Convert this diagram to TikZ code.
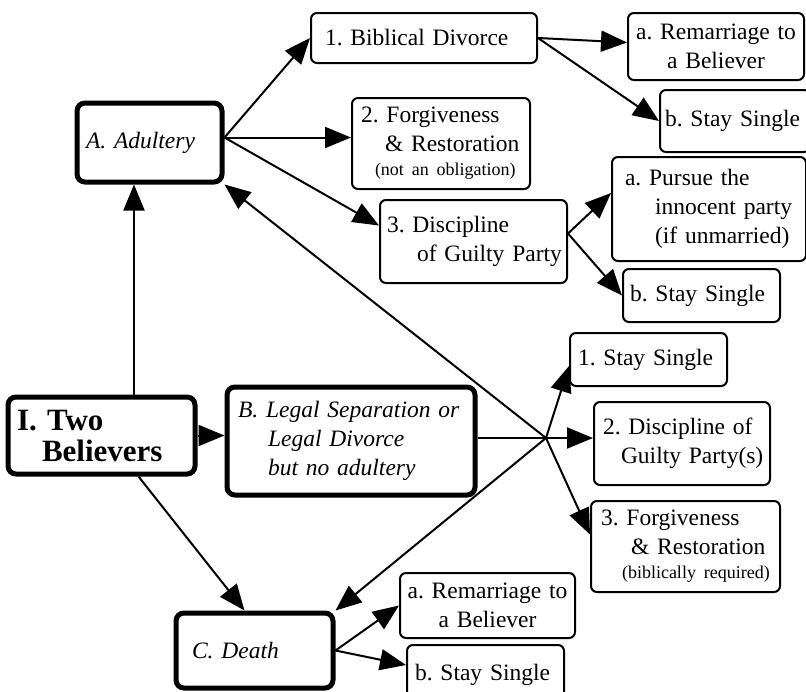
\documentclass[tikz,border=0pt]{standalone}
\usepackage{fontspec}
\setmainfont{Liberation Serif}
\usetikzlibrary{arrows.meta}
\usetikzlibrary{calc}
\frenchspacing

\newcommand{\smalltext}{\fontsize{18}{22}\selectfont}

\begin{document}
\begin{tikzpicture}[x=1pt,y=-1pt,
  box/.style={draw,line width=2pt,rounded corners=6pt,align=left,inner ysep=0pt,
    font=\fontsize{23.5}{29}\selectfont},
  mainbox/.style={box,line width=5pt,rounded corners=8pt},
  arr/.style={line width=2pt,-{Triangle[length=26pt,width=21pt]}}]

  \useasboundingbox (0,0) rectangle (806,691);

  \node[mainbox,text width=169pt,inner xsep=9pt,minimum height=77pt,
    font=\fontsize{31}{31}\selectfont\bfseries] (two) at (101.5,435.5)
    {I.~Two\\ \hspace*{25pt}Believers};

  \node[mainbox,text width=127pt,inner xsep=9pt,minimum height=79pt,font=\fontsize{23.5}{29}\selectfont\itshape]
    (adult) at (149.5,142.5) {A. Adultery};
  \node[mainbox,text width=226pt,inner xsep=11pt,minimum height=108pt,font=\fontsize{23.5}{29}\selectfont\itshape]
    (legal) at (351,441)
    {B.~Legal~Separation~or\\ \hspace*{30pt}Legal Divorce\\ \hspace*{30pt}but no adultery};
  \node[mainbox,text width=125pt,inner xsep=16pt,minimum height=75pt,font=\fontsize{23.5}{29}\selectfont\itshape]
    (death) at (254.5,650.5) {C. Death};

  \node[box,text width=198pt,inner xsep=14pt,minimum height=50pt] (bib) at (424,38) {1. Biblical Divorce};
  \node[box,text width=160pt,inner xsep=9pt,minimum height=91pt] (forgA) at (441,143.5)
    {2. Forgiveness\\ \hspace*{24pt}\&~Restoration\\[-5pt] \hspace*{14pt}{\smalltext (not an obligation)}};
  \node[box,text width=173pt,inner xsep=7pt,minimum height=83pt] (discA) at (473.5,241.5)
    {3. Discipline\\ \hspace*{30pt}of~Guilty~Party};

  \node[box,align=center,text width=168pt,inner xsep=4pt,minimum height=67pt] (remA) at (716,46.5)
    {a.~Remarriage~to\\ a Believer};
  \node[box,text width=140pt,inner xsep=5pt,minimum height=62pt] (ssA) at (735,121) {b.~Stay~Single};
  \node[box,text width=168pt,inner xsep=13pt,minimum height=104pt] (pursue) at (709,209)
    {a. Pursue the\\ \hspace*{30pt}innocent~party\\ \hspace*{30pt}(if~unmarried)};
  \node[box,text width=143pt,inner xsep=7pt,minimum height=53pt] (ssB) at (701.5,295.5) {b.~Stay~Single};

  \node[box,text width=141pt,inner xsep=8pt,minimum height=53pt] (ss1) at (648.5,359.5) {1.~Stay~Single};
  \node[box,text width=158pt,inner xsep=9pt,minimum height=83pt] (disc2) at (682,443.5)
    {2.~Discipline~of\\ \hspace*{18pt}Guilty~Party(s)};
  \node[box,text width=169pt,inner xsep=10pt,minimum height=91pt] (forg3) at (685.5,546.5)
    {3. Forgiveness\\ \hspace*{30pt}\&~Restoration\\[-5pt] \hspace*{21pt}{\smalltext (biblically~required)}};

  \node[box,align=center,text width=167pt,inner xsep=4pt,minimum height=65pt] (remB) at (487.5,605.5)
    {a.~Remarriage~to\\ a Believer};
  \node[box,text width=141pt,inner xsep=8pt,minimum height=60pt] (ssC) at (485.5,675) {b.~Stay~Single};

  \coordinate (aout) at ([yshift=5pt]adult.east);
  \coordinate (dout) at ([yshift=8pt]discA.east);
  \coordinate (hub) at (546,438);

  \draw[arr] ([xshift=32.5pt]two.north) -- ([xshift=-15.5pt]adult.south);
  \draw[arr] (two.east) -- (two.east -| legal.west);
  \draw[arr] ([xshift=37pt]two.south) -- ([xshift=-10pt]death.north);

  \draw[arr] (aout) -- (bib.west);
  \draw[arr] (aout) -- (aout -| forgA.west);
  \draw[arr] (aout) -- ([yshift=16pt]discA.west);

  \draw[arr] (bib.east) -- ([yshift=4pt]remA.west);
  \draw[arr] (bib.east) -- (ssA.west);

  \draw[arr] (dout) -- ([yshift=16pt]pursue.west);
  \draw[arr] (dout) -- (ssB.west);

  \draw[line width=2pt] (legal.east |- hub) -- (hub);
  \draw[arr] (hub) -- ([yshift=-6.5pt]ss1.west);
  \draw[arr] (hub) -- (hub -| disc2.west);
  \draw[arr] (hub) -- ([yshift=12pt]forg3.west);
  \draw[arr] (hub) -- (adult.south east);
  \draw[arr] (hub) -- (death.north east);

  \draw[arr] (death.east) -- (remB.west);
  \draw[arr] (death.east) -- ([yshift=10pt]ssC.west);
\end{tikzpicture}
\end{document}
